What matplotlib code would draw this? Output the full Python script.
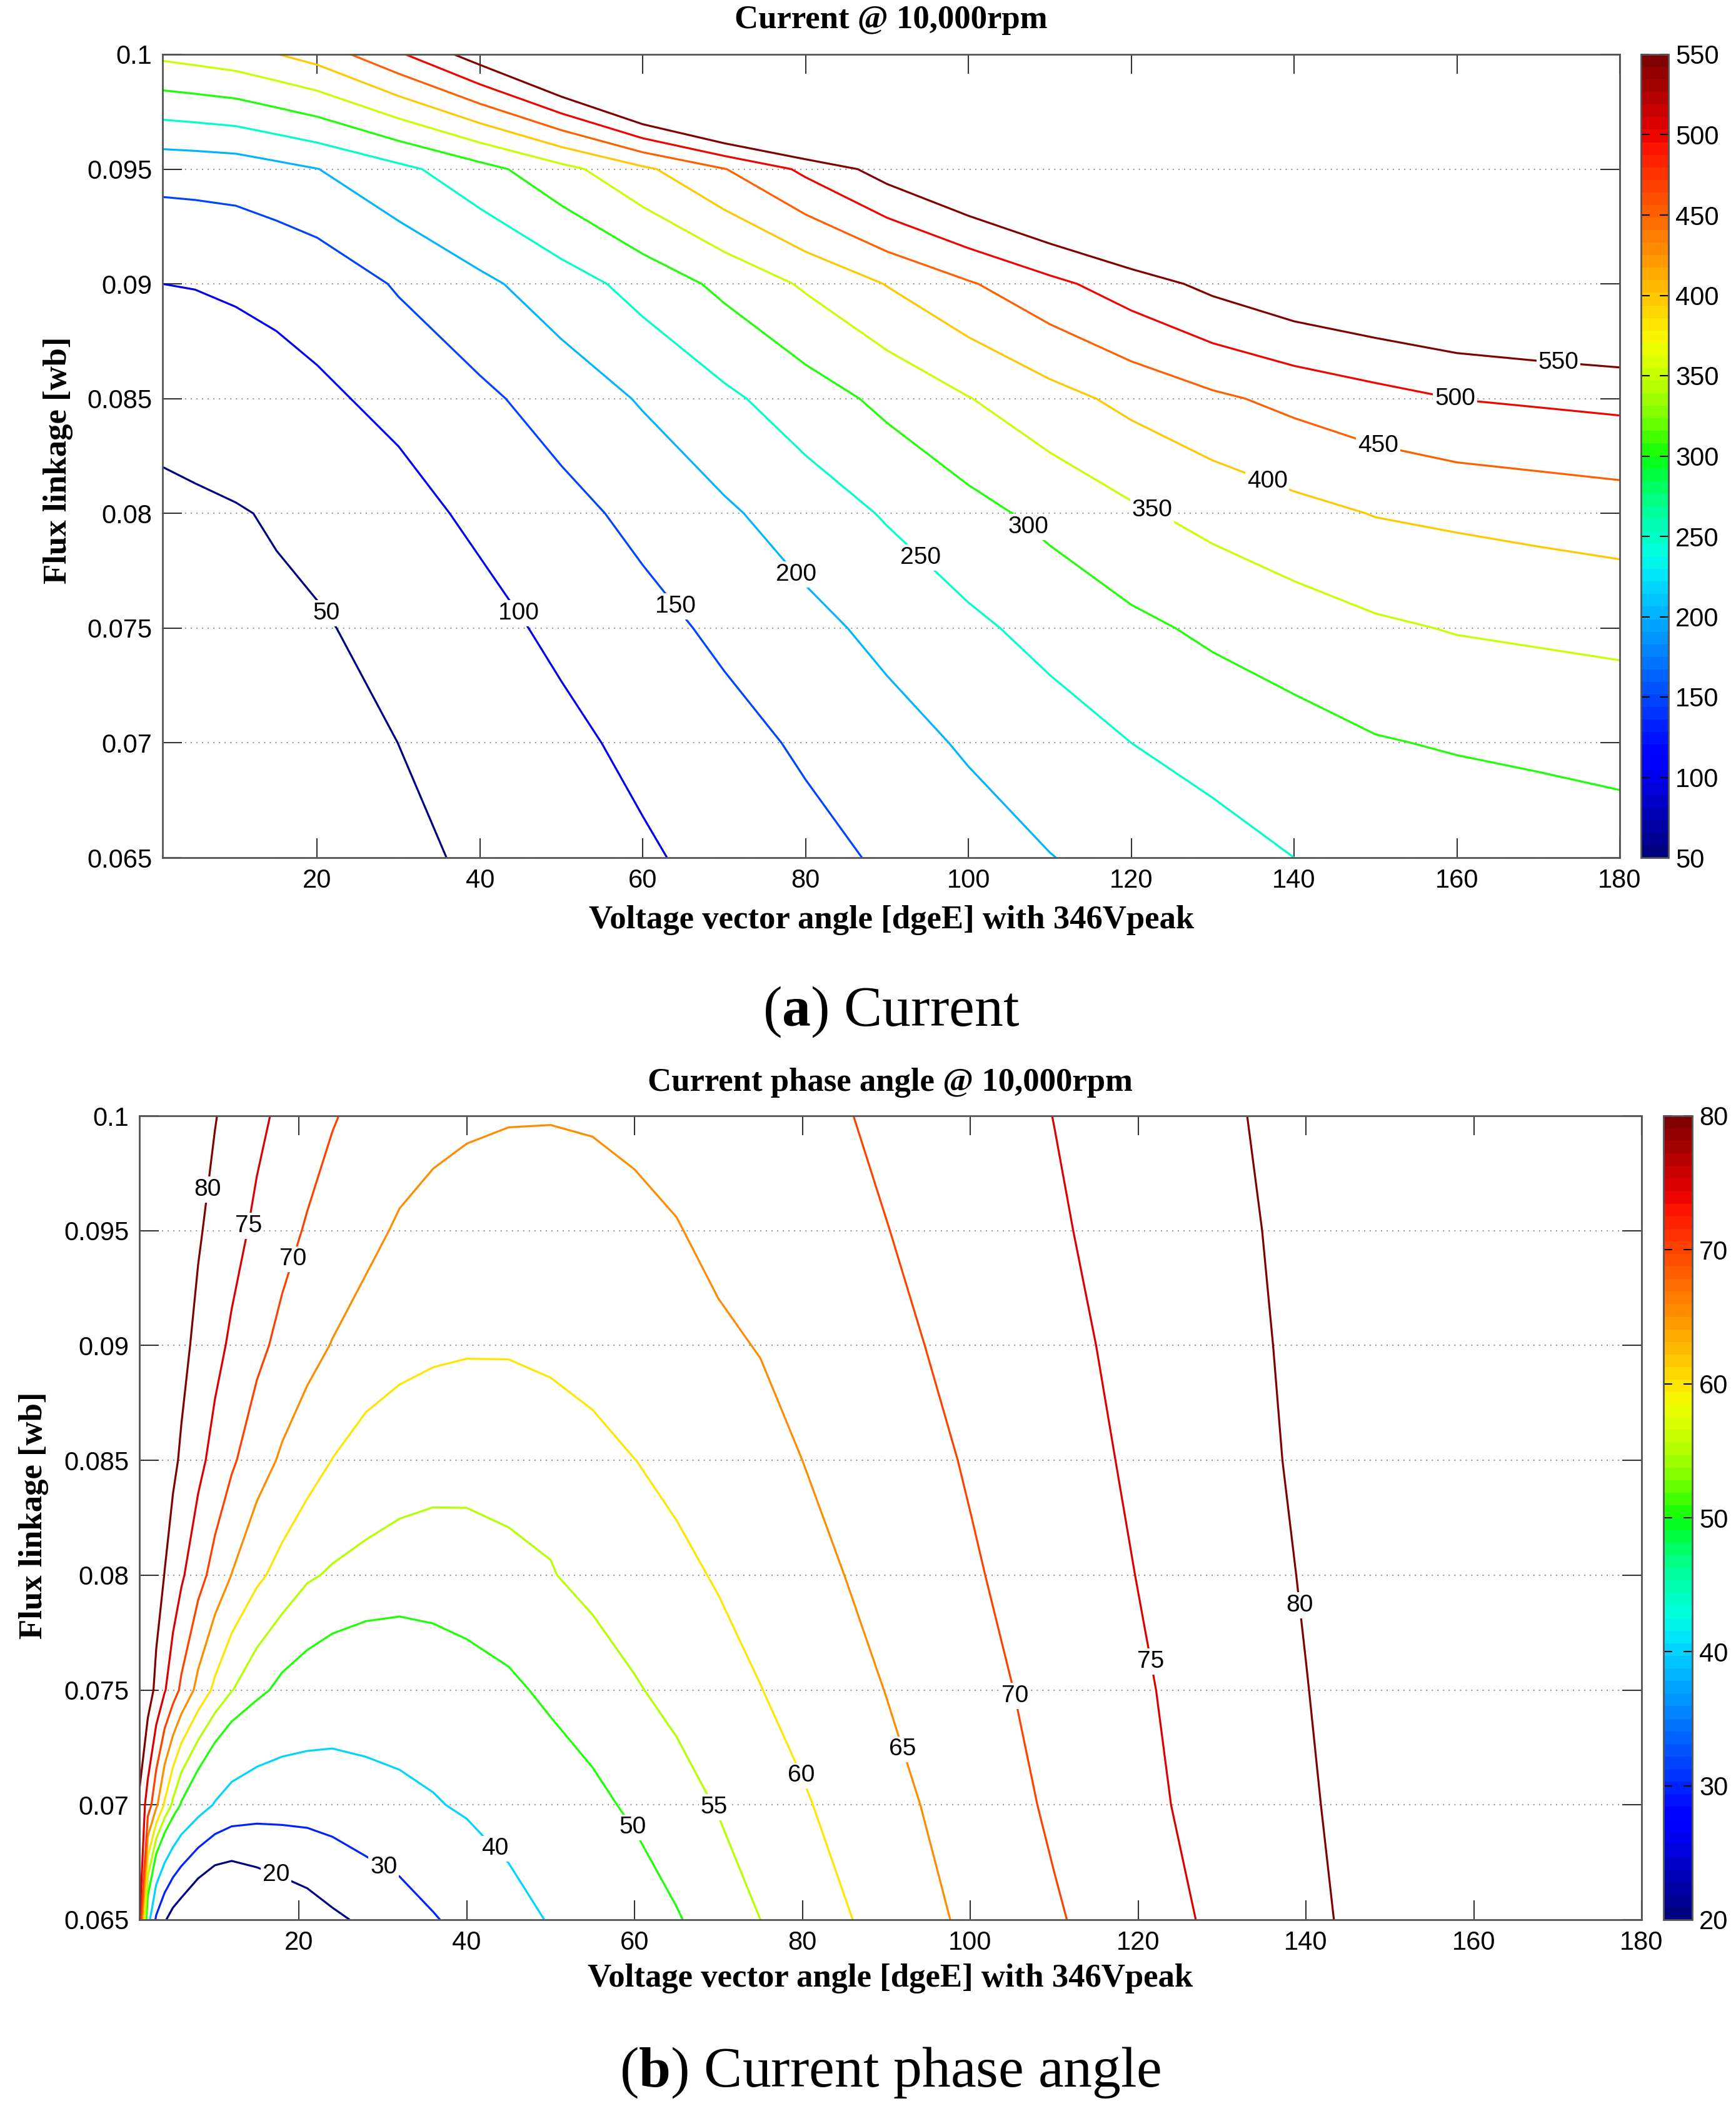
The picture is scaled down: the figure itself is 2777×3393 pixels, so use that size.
import matplotlib
matplotlib.use("Agg")
import matplotlib.pyplot as plt
import numpy as np
from matplotlib.colors import Normalize, ListedColormap, rgb_to_hsv, hsv_to_rgb
from matplotlib.cm import ScalarMappable
from matplotlib.ticker import FuncFormatter

plt.rcParams['font.family'] = ['Liberation Sans', 'DejaVu Sans']
plt.rcParams['mathtext.fontset'] = 'custom'
plt.rcParams['mathtext.rm'] = 'Liberation Serif'
plt.rcParams['mathtext.bf'] = 'Liberation Serif:bold'

# ---------------- data: current (A) ----------------
flux = [0.065, 0.07, 0.075, 0.08, 0.085, 0.09, 0.095, 0.1]
angle_a = [1, 5, 10, 15, 20, 30, 40, 50, 60, 70, 80, 90, 100, 110, 120, 130, 140, 150, 160, 170, 180]
cur_065 = [2, 6, 12, 17, 22, 39.3, 57.5, 75.7, 94, 114.2, 135.4, 156.5, 177.6, 198.7, 216, 233.1, 250, 257, 264, 271, 278]
cur_070 = [5, 9, 15, 23, 31, 50.2, 69.9, 89.6, 110.7, 133.6, 156.9, 181.7, 205.8, 227.9, 250, 265.5, 281.1, 296.6, 304.3, 309.8, 315.3]
cur_075 = [20, 26, 33, 39, 45, 66, 86.7, 109, 134.2, 159.8, 186.2, 213, 240.2, 265.3, 289.2, 309.1, 325.7, 342.4, 352.9, 358.2, 363.5]
cur_080 = [33, 39, 46, 55.3, 65.7, 86, 108.3, 135, 163, 192.6, 223.4, 254.5, 284.2, 313.5, 342.2, 364.8, 385, 402, 409.5, 417, 424.3]
cur_085 = [75, 81, 88, 90, 93, 110, 140.2, 171.2, 204.6, 240.1, 276.1, 312.2, 348.2, 382.3, 413.3, 441.1, 463.2, 482.6, 500.6, 506.8, 513]
cur_090 = [100, 101, 103, 107, 117, 155.1, 188.9, 226.8, 268.3, 312.1, 356.8, 402.1, 444.9, 486.7, 526.2, 563, 592, 610, 625, 638, 649]
cur_095 = [166, 168, 172, 185, 199, 237, 282, 334, 390, 448, 511, 572, 622, 667, 710, 750, 785, 815, 840, 862, 880]
cur_100 = [361, 369, 380, 399, 420, 493, 577, 676, 799, 900, 965, 1030, 1090, 1130, 1165, 1195, 1220, 1240, 1255, 1268, 1280]
cur_levels = [50, 100, 150, 200, 250, 300, 350, 400, 450, 500, 550]
cur_label_pos = [(21.3, 0.0757), (45.3, 0.0758), (63.5, 0.0758), (78.7, 0.0773), (94.2, 0.0781),
                 (107.1, 0.0793), (122.4, 0.0800), (136.8, 0.0815), (150.1, 0.0826),
                 (159.7, 0.0849), (172.5, 0.0867)]

# ---------------- data: current phase angle (deg) ----------------
angle_b = [1, 2, 3, 4, 5, 6, 8, 10, 12, 15, 18, 21, 24, 28, 32, 36, 40, 45, 50, 55,
           60, 65, 70, 75, 80, 90, 100, 110, 120, 130, 140, 150, 165, 180]
ph_065 = [76, 44, 28.5, 21, 16, 13, 6.5, 2.5, 3, 8, 11.8, 14.8, 18.3, 21.6, 25, 29.3, 32.7, 36.6, 40.6, 43.5,
          46.5, 49.6, 52.3, 55, 57.3, 61.8, 66, 69.5, 72.8, 76, 79, 82, 85, 87]
ph_070 = [79.1, 72.9, 66.1, 59.4, 54, 49.4, 44, 39.4, 36.2, 34.3, 33.85, 33.8, 34.5, 36.8, 38.3, 39.4, 41, 43.5, 46.1, 48.6,
          51, 53.1, 55.3, 57.4, 59.5, 63.5, 67.2, 70.7, 73.9, 76.7, 79.5, 82.3, 85.5, 88.5]
ph_075 = [85.8, 82.3, 78.9, 75.4, 72.2, 69.1, 63.5, 58.9, 55.2, 51.5, 48.5, 47.0, 45.7, 44.45, 43.86, 44.9, 46.7, 48.85, 51.2, 52.9,
          54.6, 56.3, 58.1, 59.9, 61.6, 65.1, 68.4, 71.5, 74.4, 77.2, 79.9, 82.6, 86.3, 89.5]
ph_080 = [86.2, 84.1, 82, 79.9, 77.8, 75.7, 71.8, 68.2, 64.9, 61, 58.3, 55.6, 54.45, 53.7, 53.45, 53.7, 54.15, 54.5, 54.8, 56.1,
          57.5, 58.9, 60.4, 61.9, 63.5, 66.5, 69.5, 72.3, 75.1, 77.7, 80.3, 82.8, 86.5, 89.8]
ph_085 = [87.1, 85.6, 84, 82.5, 80.9, 79.4, 76.3, 73.4, 70.7, 67.2, 64.3, 62.2, 59.9, 57.9, 56.6, 55.9, 55.6, 55.7, 56.3, 57.8,
          59.95, 61.2, 62.5, 63.8, 65, 67.7, 70.4, 73.1, 75.7, 78.2, 80.7, 83.2, 86.8, 90]
ph_090 = [87.3, 86.1, 84.9, 83.7, 82.5, 81.3, 78.8, 76.4, 74.2, 71.2, 68.7, 66.5, 64.8, 62.9, 61.75, 60.96, 60.57, 60.59, 61.44, 62.8,
          63.5, 64.0, 64.45, 65.15, 66.5, 68.9, 71.3, 73.8, 76.2, 78.6, 80.9, 83.1, 86.4, 89.5]
ph_095 = [87.1, 86.1, 85.2, 84.2, 83.3, 82.4, 80.5, 78.6, 76.7, 74, 71.6, 69.55, 68.1, 66.3, 64.4, 63.24, 62.5, 62.3, 62.7, 63.2,
          64.2, 64.84, 65.8, 66.9, 67.9, 69.9, 72.2, 74.5, 76.7, 78.9, 81.2, 83.4, 86.5, 89.5]
ph_100 = [87.6, 86.8, 86, 85.2, 84.3, 83.5, 81.9, 80.2, 78.6, 76.1, 74, 72.2, 70.3, 68.7, 67.5, 66.5, 65.8, 65.3, 65.2, 65.4,
          65.7, 66.2, 66.8, 67.6, 68.6, 70.9, 73, 75.05, 77.2, 79.4, 81.4, 83.4, 86.4, 89.4]
ph_levels = [20, 30, 40, 50, 55, 60, 65, 70, 75, 80]
ph_label_pos = [(17.4, 0.0671), (30.6, 0.0676), (43.4, 0.0681), (59.3, 0.0689), (68.9, 0.0698),
                (79.4, 0.0712), (91.8, 0.0724), (104.7, 0.0747), (120.9, 0.0762), (139.5, 0.0787),
                (8.8, 0.0968), (14.1, 0.0952), (18.9, 0.0938)]

flux_ticks = [0.065, 0.07, 0.075, 0.08, 0.085, 0.09, 0.095, 0.1]
angle_ticks = [20, 40, 60, 80, 100, 120, 140, 160, 180]

W, H = 2777, 3393
fig = plt.figure(figsize=(W / 100, H / 100), dpi=100)

# MATLAB-like 64 step jet, a little more saturated like the scanned figure
jet = plt.get_cmap('jet', 64)(np.linspace(0, 1, 64))[:, :3]
hsv = rgb_to_hsv(jet)
hsv[:, 1] = np.clip(hsv[:, 1] * 1.8, 0, 1)
cmap = ListedColormap(hsv_to_rgb(hsv))
serif = 'Liberation Serif'


def fx(px):
    return px / W


def fy(py):
    return 1 - py / H


def style_axes(ax):
    ax.set_xlim(1, 180)
    ax.set_ylim(0.065, 0.1)
    ax.set_xticks(angle_ticks)
    ax.set_yticks(flux_ticks)
    ax.yaxis.set_major_formatter(FuncFormatter(lambda v, p: f'{v:g}'))
    ax.tick_params(direction='in', length=22, width=1.5, top=True, right=True,
                   labelsize=30, pad=12, color='#333333')
    ax.yaxis.grid(True, linestyle=(0, (1, 4)), color='#808080', linewidth=1.3)
    ax.xaxis.grid(False)
    for s in ax.spines.values():
        s.set_color('#555555')
        s.set_linewidth(2)


def panel(ax_rect, cb_rect, x, z_rows, levels, vmin, vmax, cb_ticks, label_pos):
    ax = fig.add_axes(ax_rect)
    X, Y = np.meshgrid(x, flux)
    Z = np.array(z_rows)
    norm = Normalize(vmin, vmax)
    style_axes(ax)
    cs = ax.contour(X, Y, Z, levels=levels, cmap=cmap, norm=norm, linewidths=2.3)
    texts = ax.clabel(cs, levels, inline=False, fmt='%d', fontsize=28, colors='k',
                      manual=label_pos)
    for t in texts:
        t.set_rotation(0)
        t.set_bbox(dict(facecolor='white', edgecolor='none', pad=2))
    cax = fig.add_axes(cb_rect)
    cb = fig.colorbar(ScalarMappable(norm=norm, cmap=cmap), cax=cax, ticks=cb_ticks)
    cb.outline.set_edgecolor('#555555')
    cb.outline.set_linewidth(2)
    cax.tick_params(direction='in', length=10, width=1.5, left=True, right=True,
                    labelsize=30, pad=8)
    return ax


# top panel: current
panel([fx(260), fy(1372), fx(2591) - fx(260), fy(87) - fy(1372)],
      [fx(2625), fy(1372), fx(2669) - fx(2625), fy(87) - fy(1372)],
      angle_a, [cur_065, cur_070, cur_075, cur_080, cur_085, cur_090, cur_095, cur_100],
      cur_levels, 50, 550, cur_levels, cur_label_pos)

# bottom panel: current phase angle
panel([fx(223), fy(3071), fx(2626) - fx(223), fy(1785) - fy(3071)],
      [fx(2661), fy(3071), fx(2707) - fx(2661), fy(1785) - fy(3071)],
      angle_b, [ph_065, ph_070, ph_075, ph_080, ph_085, ph_090, ph_095, ph_100],
      ph_levels, 20, 80, [20, 30, 40, 50, 60, 70, 80], ph_label_pos)

bold = dict(family=serif, fontweight='bold', fontsize=38, ha='center', va='center')
fig.text(fx(1425), fy(32), 'Current @ 10,000rpm', **bold)
fig.text(fx(1426), fy(1472), 'Voltage vector angle [dgeE] with 346Vpeak', **bold)
fig.text(fx(93), fy(736), 'Flux linkage [wb]', rotation=90, **bold)
fig.text(fx(1424), fy(1732), 'Current phase angle @ 10,000rpm', **bold)
fig.text(fx(1424), fy(3165), 'Voltage vector angle [dgeE] with 346Vpeak', **bold)
fig.text(fx(54), fy(2424), 'Flux linkage [wb]', rotation=90, **bold)

cap = dict(family=serif, fontsize=66, ha='center', va='center')
fig.text(fx(1426), fy(1619), r'($\mathbf{a}$) Current', **cap)
fig.text(fx(1424), fy(3316), r'($\mathbf{b}$) Current phase angle', **cap)

fig.savefig('out.png', dpi=100, facecolor='white')
